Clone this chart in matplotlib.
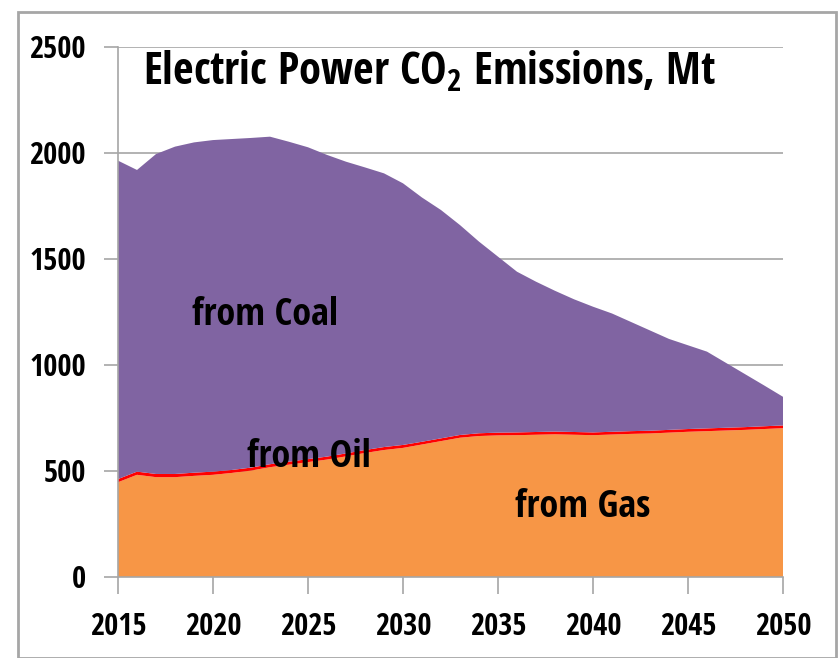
import matplotlib
matplotlib.use("Agg")
import matplotlib.pyplot as plt
from matplotlib.patches import Rectangle
from matplotlib import font_manager

years = list(range(2015, 2051))
total = [1964, 1920, 1995, 2030, 2050, 2061, 2066, 2071, 2077, 2053,
         2027, 1991, 1959, 1932, 1904, 1857, 1790, 1731, 1660, 1582,
         1511, 1440, 1393, 1350, 1310, 1275, 1243, 1203, 1163, 1123,
         1093, 1063, 1010, 957, 904, 850]
gas_oil_top = [462, 497, 486, 486, 492, 497, 505, 516, 532, 544,
               556, 568, 583, 599, 613, 623, 638, 654, 670, 678,
               681, 682, 684, 686, 684, 682, 685, 688, 690, 694,
               698, 701, 704, 707, 711, 715]
oil = [15, 15, 15, 15, 15, 15, 14, 14, 14, 14,
       14, 14, 14, 14, 14, 14, 13, 13, 13, 13,
       13, 13, 13, 13, 13, 13, 13, 13, 13, 13,
       13, 13, 13, 13, 13, 13]
gas = [t - o for t, o in zip(gas_oil_top, oil)]
coal = [t - g for t, g in zip(total, gas_oil_top)]

yticks = [0, 500, 1000, 1500, 2000, 2500]
xticks = [2015, 2020, 2025, 2030, 2035, 2040, 2045, 2050]

avail = {f.name for f in font_manager.fontManager.ttflist}
fam = "DejaVu Sans"
for cand in ["Open Sans Condensed", "IBM Plex Sans Condensed", "Carlito"]:
    if cand in avail:
        fam = cand
        break
plt.rcParams['font.family'] = [fam, 'DejaVu Sans']
plt.rcParams['mathtext.fontset'] = 'custom'
plt.rcParams['mathtext.rm'] = fam
plt.rcParams['mathtext.bf'] = fam + ':bold'

fig = plt.figure(figsize=(8.39, 6.58), dpi=100)
ax = fig.add_axes([118/839, 1-577/658, (783-118)/839, (577-47)/658])

c_gas = "#F79646"
c_oil = "#FF0000"
c_coal = "#8064A2"
ax.stackplot(years, gas, oil, coal, colors=[c_gas, c_oil, c_coal], linewidth=0)

ax.set_xlim(2015, 2050)
ax.set_ylim(0, 2500)
ax.set_yticks(yticks)
ax.set_xticks(xticks)
ax.yaxis.grid(True, color="#a6a6a6", linewidth=1.2)
ax.set_axisbelow(True)
for s in ["top", "right"]:
    ax.spines[s].set_visible(False)
for s in ["left", "bottom"]:
    ax.spines[s].set_color("#a6a6a6")
    ax.spines[s].set_linewidth(1.2)
ax.tick_params(axis="y", length=10, width=1.2, color="#a6a6a6", pad=13,
               labelsize=22)
ax.tick_params(axis="x", length=12, width=1.2, color="#a6a6a6", pad=13,
               labelsize=22)
for lab in ax.get_xticklabels() + ax.get_yticklabels():
    lab.set_fontweight("bold")

lab_fs = 27.5
ax.text(2018.9, 1189, "from Coal", fontsize=lab_fs, fontweight="bold",
        ha="left", va="baseline")
ax.text(2021.8, 519, "from Oil", fontsize=lab_fs, fontweight="bold",
        ha="left", va="baseline")
ax.text(2035.9, 283, "from Gas", fontsize=lab_fs, fontweight="bold",
        ha="left", va="baseline")
ax.text(2016.3, 2321, r"Electric Power CO$_\mathbf{2}$ Emissions, Mt",
        fontsize=32, fontweight="bold", ha="left", va="baseline")

fig.patches.append(Rectangle((18/839, 0), (836-18)/839, 1-12/658,
                             transform=fig.transFigure, fill=False,
                             edgecolor="#a6a6a6", linewidth=2))

fig.savefig("out.png", dpi=100)
